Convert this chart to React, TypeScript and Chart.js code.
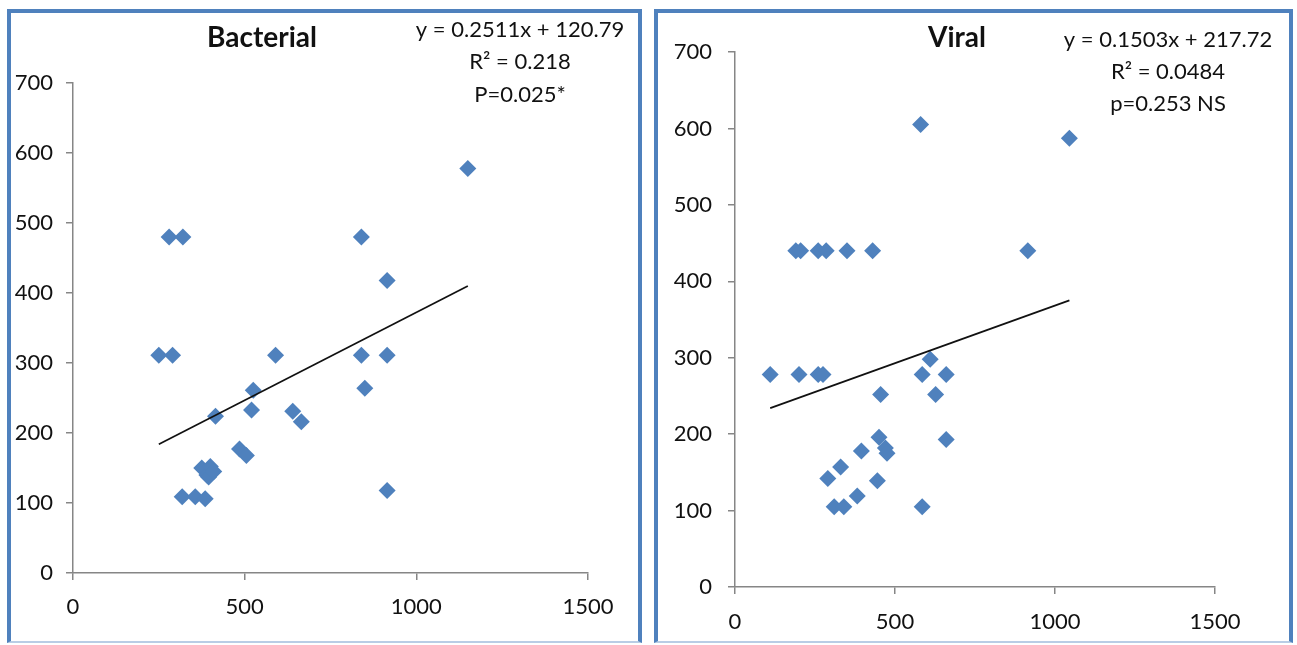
import React, { useEffect, useRef } from "react";
import { Chart, registerables } from "chart.js";

Chart.register(...registerables);

// ---- Data ----
const bacterialX = [1150, 280, 320, 840, 915, 250, 290, 590, 840, 915, 525, 520, 415, 850, 640, 665, 485, 505, 375, 390, 400, 395, 410, 318, 356, 385, 915];
const bacterialY = [578, 480, 480, 480, 418, 311, 311, 311, 311, 311, 261, 233, 224, 264, 231, 216, 177, 168, 150, 140, 152, 137, 145, 109, 109, 106, 118];
const bacterialTrendX = [250, 1150];
const bacterialTrendY = [184, 410];
const bacterialEquation = ["y = 0.2511x + 120.79", "R² = 0.218", "P=0.025*"];

const viralX = [580, 1045, 190, 205, 260, 285, 350, 430, 915, 110, 200, 260, 275, 585, 660, 610, 455, 627, 450, 660, 395, 470, 475, 330, 290, 445, 382, 310, 340, 585];
const viralY = [605, 587, 440, 440, 440, 440, 440, 440, 440, 278, 278, 278, 278, 278, 278, 298, 252, 252, 196, 193, 178, 182, 175, 157, 142, 139, 119, 105, 105, 105];
const viralTrendX = [110, 1045];
const viralTrendY = [234, 375];
const viralEquation = ["y = 0.1503x + 217.72", "R² = 0.0484", "p=0.253 NS"];

const xTicks = [0, 500, 1000, 1500];
const xTickLabels = ["0", "500", "1000", "1500"];
const yTicks = [0, 100, 200, 300, 400, 500, 600, 700];
const yTickLabels = ["0", "100", "200", "300", "400", "500", "600", "700"];

// ---- Styles ----
const BLUE = "#4F81BD";
const AXIS = "#868686";
const TEXT = "#111111";
const FONT = "Lato, 'Open Sans', sans-serif";

type PanelSpec = {
  title: string;
  equation: string[];
  xs: number[];
  ys: number[];
  tx: number[];
  ty: number[];
  canvas: { left: number; top: number; width: number; height: number };
  area: { left: number; right: number; top: number; bottom: number };
  titlePos: [number, number];
  eqX: number;
  eqY: number[];
  yPad: number;
  xPad: number;
};

const panels: PanelSpec[] = [
  {
    title: "Bacterial",
    equation: bacterialEquation,
    xs: bacterialX,
    ys: bacterialY,
    tx: bacterialTrendX,
    ty: bacterialTrendY,
    canvas: { left: 11, top: 13, width: 627, height: 628 },
    area: { left: 62, right: 577, top: 70, bottom: 560 },
    titlePos: [251, 25],
    eqX: 509,
    eqY: [17, 49, 82],
    yPad: 13,
    xPad: 14,
  },
  {
    title: "Viral",
    equation: viralEquation,
    xs: viralX,
    ys: viralY,
    tx: viralTrendX,
    ty: viralTrendY,
    canvas: { left: 658, top: 13, width: 631, height: 628 },
    area: { left: 77, right: 557, top: 39, bottom: 574 },
    titlePos: [299, 25],
    eqX: 510,
    eqY: [27, 59, 91],
    yPad: 16,
    xPad: 15,
  },
];

function labelFor(values: number[], labels: string[], v: number): string {
  const i = values.indexOf(v);
  return i >= 0 ? labels[i] : "";
}

function ScatterPanel({ spec }: { spec: PanelSpec }) {
  const ref = useRef<HTMLCanvasElement>(null);

  useEffect(() => {
    if (!ref.current) return;
    const W = spec.canvas.width;
    const H = spec.canvas.height;

    const textPlugin = {
      id: "panelTexts",
      afterDraw(chart: any) {
        const ctx = chart.ctx as CanvasRenderingContext2D;
        ctx.save();
        ctx.fillStyle = TEXT;
        ctx.textAlign = "center";
        ctx.textBaseline = "middle";
        ctx.font = `bold 28px ${FONT}`;
        ctx.fillText(spec.title, spec.titlePos[0], spec.titlePos[1]);
        ctx.font = `22px ${FONT}`;
        spec.equation.forEach((line, i) => {
          ctx.fillText(line, spec.eqX, spec.eqY[i]);
        });
        ctx.restore();
      },
    };

    const points = spec.xs.map((x, i) => ({ x, y: spec.ys[i] }));
    const trend = spec.tx.map((x, i) => ({ x, y: spec.ty[i] }));

    const chart = new Chart(ref.current, {
      type: "scatter",
      data: {
        datasets: [
          {
            data: trend,
            showLine: true,
            borderColor: "#111111",
            borderWidth: 1.7,
            pointRadius: 0,
            fill: false,
            order: 0,
          } as any,
          {
            data: points,
            pointStyle: "rectRot",
            pointRadius: 8.5,
            backgroundColor: BLUE,
            borderColor: BLUE,
            borderWidth: 0,
            order: 1,
          } as any,
        ],
      },
      options: {
        responsive: false,
        animation: false,
        events: [],
        layout: {
          padding: { left: 0, top: spec.area.top, right: W - spec.area.right, bottom: 0 },
        },
        plugins: {
          legend: { display: false },
          tooltip: { enabled: false },
          title: { display: false },
        },
        scales: {
          x: {
            type: "linear",
            min: 0,
            max: 1500,
            afterBuildTicks: (s: any) => {
              s.ticks = xTicks.map((v) => ({ value: v }));
            },
            afterFit: (s: any) => {
              s.height = H - spec.area.bottom;
            },
            grid: {
              drawOnChartArea: false,
              drawTicks: true,
              tickLength: 7,
              color: AXIS,
              lineWidth: 1.5,
            },
            border: { display: true, color: AXIS, width: 1.5 },
            ticks: {
              font: { family: FONT, size: 22 },
              color: TEXT,
              padding: spec.xPad,
              maxRotation: 0,
              autoSkip: false,
              callback: (v: any) => labelFor(xTicks, xTickLabels, Number(v)),
            },
          },
          y: {
            type: "linear",
            min: 0,
            max: 700,
            afterBuildTicks: (s: any) => {
              s.ticks = yTicks.map((v) => ({ value: v }));
            },
            afterFit: (s: any) => {
              s.width = spec.area.left;
            },
            grid: {
              drawOnChartArea: false,
              drawTicks: true,
              tickLength: 7,
              color: AXIS,
              lineWidth: 1.5,
            },
            border: { display: true, color: AXIS, width: 1.5 },
            ticks: {
              font: { family: FONT, size: 22 },
              color: TEXT,
              padding: spec.yPad,
              autoSkip: false,
              callback: (v: any) => labelFor(yTicks, yTickLabels, Number(v)),
            },
          },
        },
      } as any,
      plugins: [textPlugin],
    });

    return () => chart.destroy();
  }, [spec]);

  return (
    <canvas
      ref={ref}
      width={spec.canvas.width}
      height={spec.canvas.height}
      style={{
        position: "absolute",
        left: spec.canvas.left,
        top: spec.canvas.top,
        width: spec.canvas.width,
        height: spec.canvas.height,
      }}
    />
  );
}

export default function App() {
  const frame = (left: number, width: number): React.CSSProperties => ({
    position: "absolute",
    left,
    top: 9,
    width,
    height: 634,
    boxSizing: "border-box",
    borderTop: `4px solid ${BLUE}`,
    borderLeft: `4px solid ${BLUE}`,
    borderRight: `4px solid ${BLUE}`,
    borderBottom: "2px solid #B9CDE5",
    background: "#ffffff",
  });

  return (
    <div
      style={{
        position: "absolute",
        left: 0,
        top: 0,
        width: 1297,
        height: 645,
        overflow: "hidden",
        background: "#ffffff",
      }}
    >
      <div style={frame(7, 635)} />
      <div style={frame(654, 639)} />
      {panels.map((p) => (
        <ScatterPanel key={p.title} spec={p} />
      ))}
    </div>
  );
}
